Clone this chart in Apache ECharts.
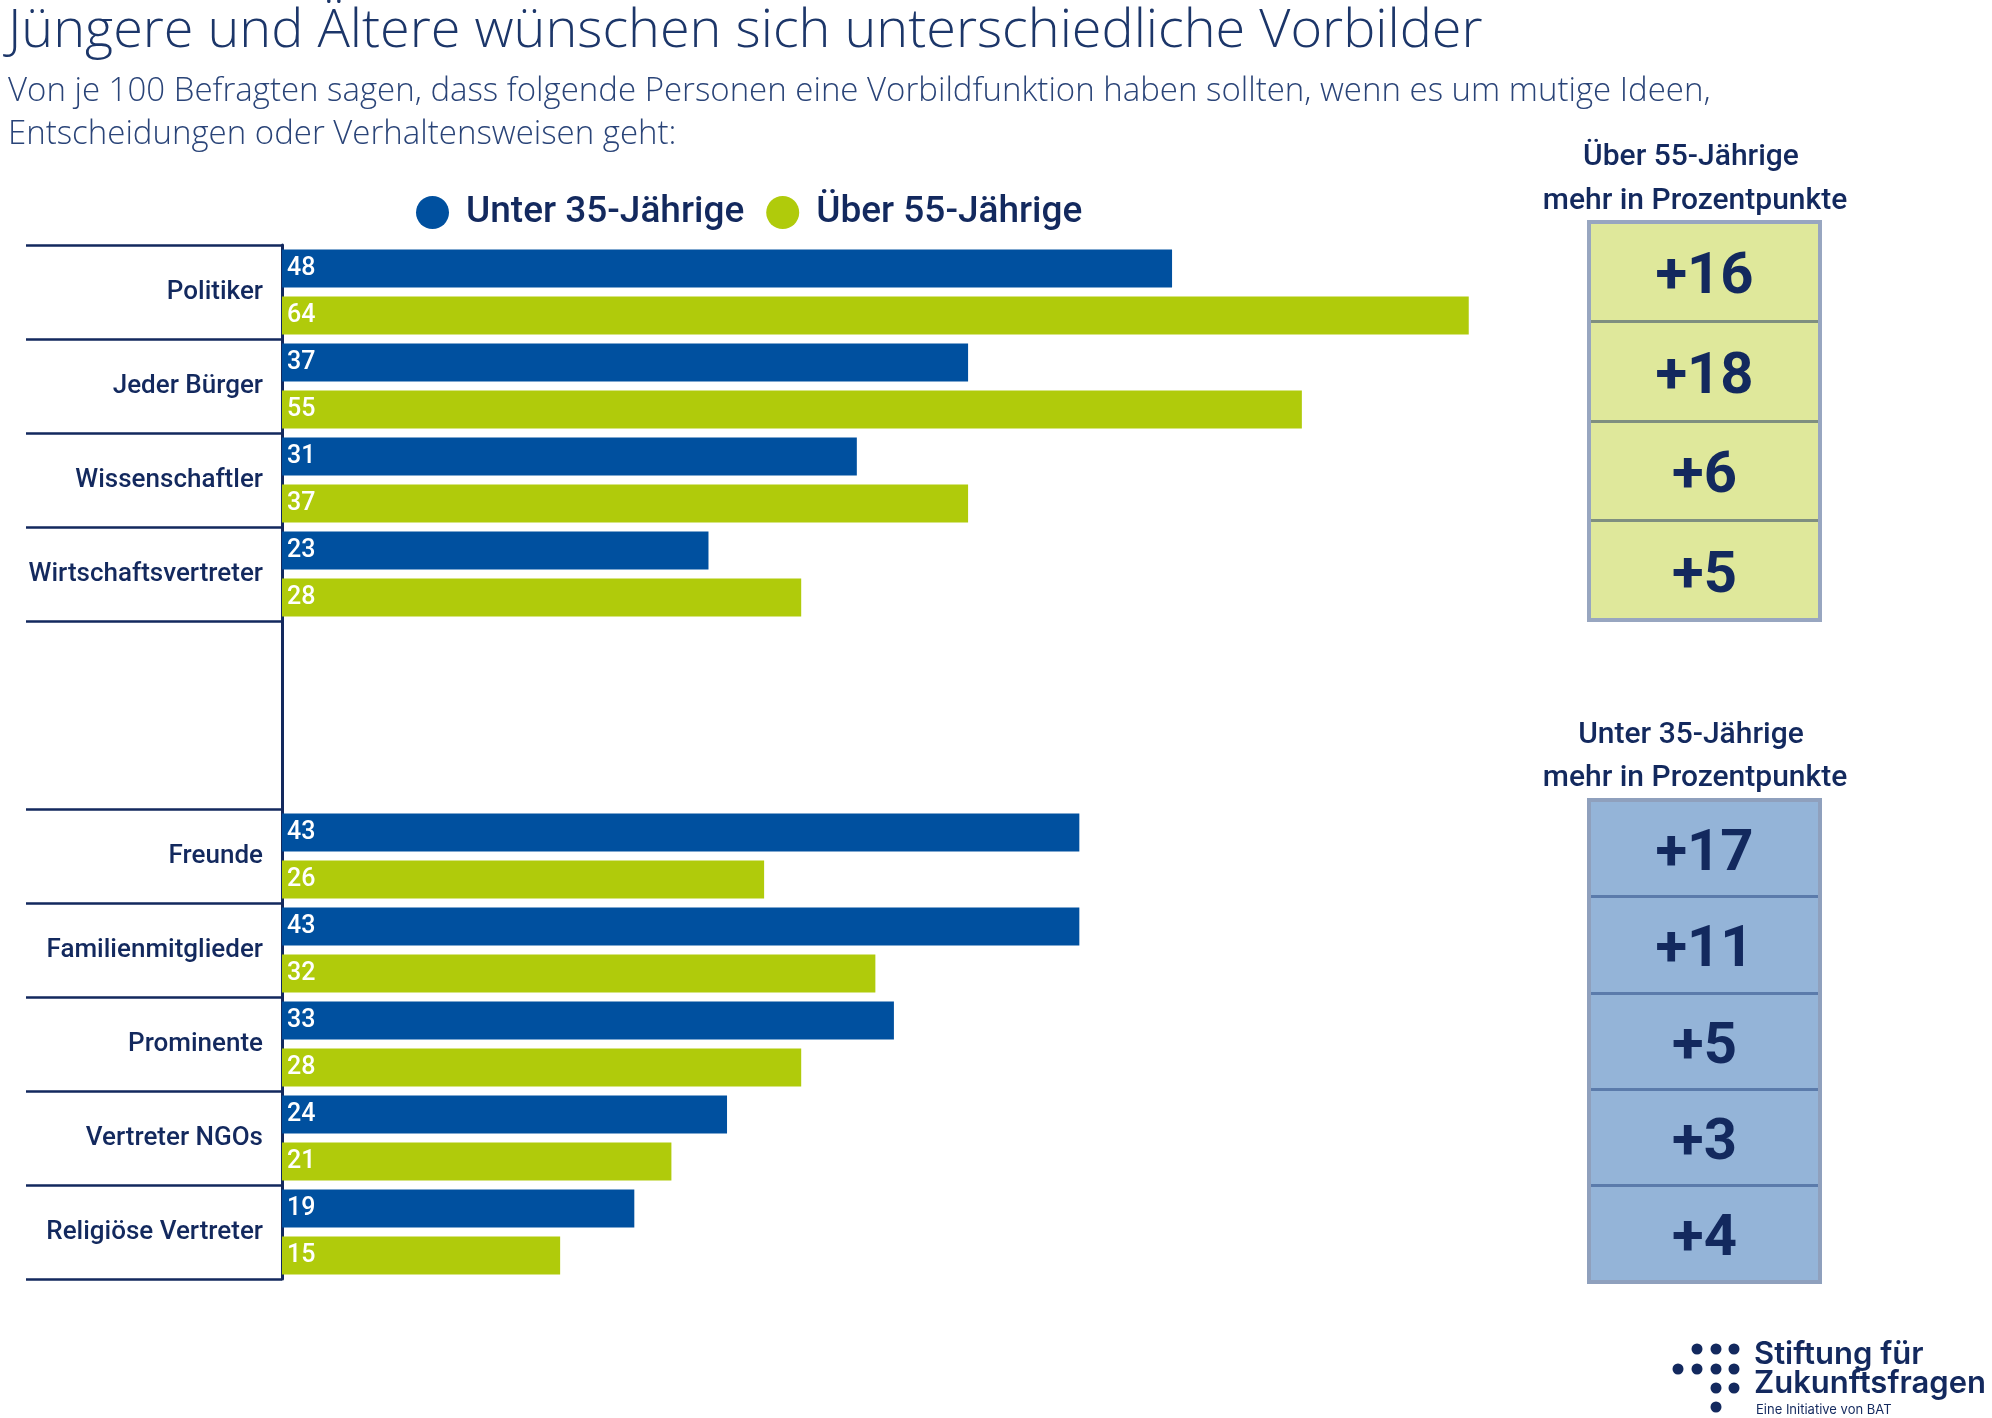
<!DOCTYPE html>
<html>
<head>
<meta charset="utf-8">
<script src="https://cdn.jsdelivr.net/npm/echarts@6/dist/echarts.min.js"></script>
<style>
  html, body { margin: 0; padding: 0; background: #fff; }
  #main { width: 1992px; height: 1418px; }
</style>
</head>
<body>
<div id="main"></div>
<script>
// Daten: je 100 Befragte
const topCategories = ['Politiker', 'Jeder Bürger', 'Wissenschaftler', 'Wirtschaftsvertreter'];
const bottomCategories = ['Freunde', 'Familienmitglieder', 'Prominente', 'Vertreter NGOs', 'Religiöse Vertreter'];
const youngTop = [48, 37, 31, 23];
const oldTop = [64, 55, 37, 28];
const youngBottom = [43, 43, 33, 24, 19];
const oldBottom = [26, 32, 28, 21, 15];
const diffOlder = [16, 18, 6, 5];
const diffYounger = [17, 11, 5, 3, 4];
const seriesNames = ['Unter 35-Jährige', 'Über 55-Jährige'];

const navy = '#13295e';
const blue = '#00509f';
const green = '#b0cb0b';

// zwei leere Kategorien als Abstand zwischen den Gruppen
const categories = topCategories.concat(['', ' '], bottomCategories);
const youngData = youngTop.concat(['-', '-'], youngBottom);
const oldData = oldTop.concat(['-', '-'], oldBottom);

const barLabel = {
  show: true,
  position: 'insideLeft',
  distance: 5,
  color: '#fff',
  fontSize: 25,
  fontWeight: 500,
  fontFamily: 'Roboto'
};

const cellLabel = {
  show: true,
  position: 'inside',
  offset: [0, 7],
  formatter: p => p.data.name,
  fontSize: 58,
  fontWeight: 'bold',
  color: navy,
  fontFamily: 'Roboto'
};

const headerStyle = {
  fontSize: 30,
  fontWeight: 500,
  fontFamily: 'Roboto',
  fill: navy,
  textAlign: 'center',
  textVerticalAlign: 'middle'
};

let chart = echarts.init(document.getElementById('main'));

const option = {
  backgroundColor: '#fff',
  animation: false,
  title: [
    {
      left: 3,
      top: 0,
      text: 'Jüngere und Ältere wünschen sich unterschiedliche Vorbilder',
      textStyle: {
        fontFamily: 'Open Sans',
        fontWeight: 300,
        fontSize: 54,
        color: '#1c3669'
      }
    },
    {
      left: 3,
      top: 65,
      text: 'Von je 100 Befragten sagen, dass folgende Personen eine Vorbildfunktion haben sollten, wenn es um mutige Ideen,\nEntscheidungen oder Verhaltensweisen geht:',
      textStyle: {
        fontFamily: 'Open Sans',
        fontWeight: 300,
        fontSize: 33,
        lineHeight: 43,
        color: '#2a4478'
      }
    }
  ],
  legend: {
    data: seriesNames,
    left: 411,
    top: 189,
    icon: 'circle',
    itemWidth: 33,
    itemHeight: 33,
    itemGap: 22,
    textStyle: {
      fontSize: 37,
      fontWeight: 500,
      fontFamily: 'Roboto',
      color: navy,
      padding: [0, 0, 0, 12]
    }
  },
  grid: [
    { left: 282, top: 245, width: 1298, height: 1034 },
    { left: 1589, top: 222, width: 231, height: 398, show: true, z: 5,
      backgroundColor: 'transparent', borderColor: '#98a6c0', borderWidth: 4 },
    { left: 1589, top: 800, width: 231, height: 482, show: true, z: 5,
      backgroundColor: 'transparent', borderColor: '#8fa0bd', borderWidth: 4 }
  ],
  xAxis: [
    { gridIndex: 0, type: 'value', min: 0, max: 70, show: false },
    { gridIndex: 1, type: 'value', min: 0, max: 1, show: false },
    { gridIndex: 2, type: 'value', min: 0, max: 1, show: false }
  ],
  yAxis: [
    {
      gridIndex: 0,
      type: 'category',
      data: categories,
      inverse: true,
      axisLine: { lineStyle: { color: navy, width: 3 } },
      axisTick: {
        show: true,
        length: 256,
        interval: (i) => i !== 5,
        lineStyle: { color: navy, width: 2.5 }
      },
      axisLabel: {
        margin: 19,
        fontSize: 26,
        fontWeight: 500,
        fontFamily: 'Roboto',
        color: navy
      },
      splitLine: { show: false }
    },
    {
      gridIndex: 1,
      type: 'category',
      data: topCategories,
      inverse: true,
      z: 3,
      axisLine: { show: false },
      axisTick: { show: false },
      axisLabel: { show: false },
      splitLine: { show: true, lineStyle: { color: '#7f8f80', width: 3 } }
    },
    {
      gridIndex: 2,
      type: 'category',
      data: bottomCategories,
      inverse: true,
      z: 3,
      axisLine: { show: false },
      axisTick: { show: false },
      axisLabel: { show: false },
      splitLine: { show: true, lineStyle: { color: '#5b7bab', width: 3 } }
    }
  ],
  series: [
    {
      name: seriesNames[0],
      type: 'bar',
      xAxisIndex: 0,
      yAxisIndex: 0,
      data: youngData,
      barWidth: 38,
      barGap: '24%',
      itemStyle: { color: blue },
      label: barLabel
    },
    {
      name: seriesNames[1],
      type: 'bar',
      xAxisIndex: 0,
      yAxisIndex: 0,
      data: oldData,
      barWidth: 38,
      barGap: '24%',
      itemStyle: { color: green },
      label: barLabel
    },
    {
      name: 'diffOlder',
      type: 'bar',
      xAxisIndex: 1,
      yAxisIndex: 1,
      data: diffOlder.map(d => ({ value: 1, name: '+' + d })),
      barCategoryGap: '0%',
      itemStyle: { color: '#dfe89b' },
      label: cellLabel
    },
    {
      name: 'diffYounger',
      type: 'bar',
      xAxisIndex: 2,
      yAxisIndex: 2,
      data: diffYounger.map(d => ({ value: 1, name: '+' + d })),
      barCategoryGap: '0%',
      itemStyle: { color: '#94b4d8' },
      label: cellLabel
    }
  ],
  graphic: [
    { type: 'text', x: 1691, y: 157, style: Object.assign({ text: 'Über 55-Jährige' }, headerStyle) },
    { type: 'text', x: 1695, y: 201, style: Object.assign({ text: 'mehr in Prozentpunkte' }, headerStyle) },
    { type: 'text', x: 1691, y: 735, style: Object.assign({ text: 'Unter 35-Jährige' }, headerStyle) },
    { type: 'text', x: 1695, y: 778, style: Object.assign({ text: 'mehr in Prozentpunkte' }, headerStyle) },
    // Logo
    { type: 'circle', shape: { cx: 1697, cy: 1349, r: 5.5 }, style: { fill: navy } },
    { type: 'circle', shape: { cx: 1716, cy: 1349, r: 5.5 }, style: { fill: navy } },
    { type: 'circle', shape: { cx: 1734, cy: 1349, r: 5.5 }, style: { fill: navy } },
    { type: 'circle', shape: { cx: 1678, cy: 1369, r: 5.5 }, style: { fill: navy } },
    { type: 'circle', shape: { cx: 1697, cy: 1369, r: 5.5 }, style: { fill: navy } },
    { type: 'circle', shape: { cx: 1716, cy: 1369, r: 5.5 }, style: { fill: navy } },
    { type: 'circle', shape: { cx: 1734, cy: 1369, r: 5.5 }, style: { fill: navy } },
    { type: 'circle', shape: { cx: 1716, cy: 1388, r: 5.5 }, style: { fill: navy } },
    { type: 'circle', shape: { cx: 1734, cy: 1388, r: 5.5 }, style: { fill: navy } },
    { type: 'circle', shape: { cx: 1716, cy: 1407, r: 5.5 }, style: { fill: navy } },
    { type: 'text', x: 1754, y: 1370, style: { text: 'Stiftung für', fontSize: 31, fontWeight: 600, fontFamily: 'Inter', fill: navy, textVerticalAlign: 'bottom' } },
    { type: 'text', x: 1754, y: 1399, style: { text: 'Zukunftsfragen', fontSize: 31, fontWeight: 600, fontFamily: 'Inter', fill: navy, textVerticalAlign: 'bottom' } },
    { type: 'text', x: 1756, y: 1417, style: { text: 'Eine Initiative von BAT', fontSize: 13, fontWeight: 400, fontFamily: 'Inter', fill: navy, textVerticalAlign: 'bottom' } }
  ]
};

chart.setOption(option);
</script>
</body>
</html>
